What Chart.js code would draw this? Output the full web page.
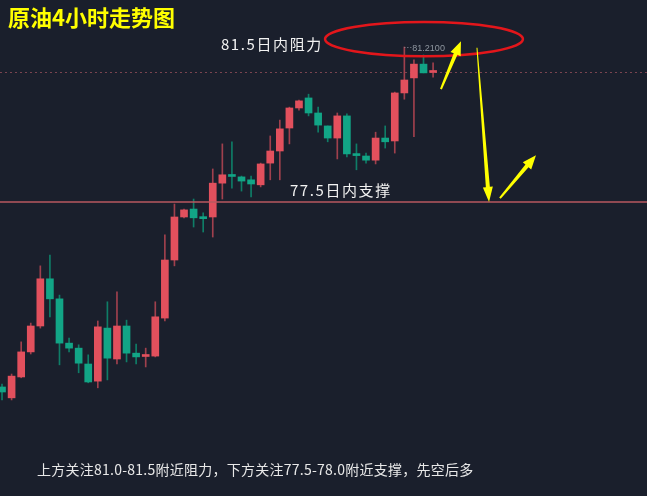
<!DOCTYPE html>
<html><head><meta charset="utf-8">
<script src="https://cdn.jsdelivr.net/npm/chart.js@4.4.1/dist/chart.umd.min.js"></script>
<style>html,body{margin:0;padding:0;background:#1a1f2c;overflow:hidden}canvas{display:block}</style>
</head><body>
<canvas id="c" width="647" height="496"></canvas>
<script>
// ---- data (crude oil, 4h candles) ----
const opens  = [73.07,72.81,73.31,73.91,74.53,75.66,75.18,74.12,74.00,73.62,73.21,74.48,73.74,74.53,73.88,73.80,73.81,74.72,76.11,77.14,77.33,77.12,77.14,77.95,78.13,78.10,78.03,77.91,78.43,78.72,79.27,79.75,79.99,79.63,79.32,79.03,79.56,78.63,78.60,78.50,79.03,78.96,80.11,80.47,80.80,80.60];
const highs  = [73.14,73.38,74.15,74.60,75.97,76.23,75.27,74.24,74.08,73.84,74.65,75.11,75.35,74.67,74.10,74.00,75.11,76.71,77.45,77.33,77.57,77.24,78.29,78.89,78.94,78.12,78.12,78.43,79.08,79.46,79.77,79.94,80.08,79.77,79.32,79.63,79.61,78.89,78.67,79.17,79.32,80.13,81.21,80.90,81.02,80.83];
const lows   = [72.76,72.76,73.29,73.86,74.48,74.75,73.60,73.91,73.41,73.17,73.05,73.24,73.62,73.67,73.62,73.55,73.79,74.65,75.97,77.12,76.90,76.78,76.66,77.57,77.83,77.76,77.62,77.86,78.03,78.03,78.89,79.70,79.56,79.17,78.94,78.53,78.58,78.27,78.43,78.41,78.79,78.67,79.96,79.06,80.59,80.49];
const closes = [72.95,73.33,73.91,74.53,75.66,75.18,74.12,74.00,73.64,73.19,74.51,73.76,74.53,73.88,73.79,73.82,74.75,76.11,77.14,77.31,77.12,77.10,77.95,78.15,78.11,78.00,77.93,78.41,78.72,79.25,79.75,79.92,79.63,79.34,79.03,79.56,78.65,78.61,78.50,79.03,78.94,80.11,80.42,80.80,80.59,80.62];
const resistanceLevel = 81.5;
const supportLevel = 77.5;
const titleText = "原油4小时走势图";
const resistanceText = "81.5日内阻力";
const supportText = "77.5日内支撑";
const noteText = "上方关注81.0-81.5附近阻力，下方关注77.5-78.0附近支撑，先空后多";

const UP = '#e2505d', DOWN = '#12a586', UPW = '#a0404d', DOWNW = '#0f7d67';
const idx = opens.map((_, i) => i);
const isUp = idx.map(i => closes[i] >= opens[i]);

const overlay = {
  id: 'overlay',
  beforeDraw(chart) {
    const c = chart.ctx;
    c.save(); c.fillStyle = '#1a1f2c'; c.fillRect(0, 0, chart.width, chart.height); c.restore();
  },
  beforeDatasetsDraw(chart) {
    const c = chart.ctx, y = chart.scales.y;
    const last = closes[closes.length - 1];
    const py = Math.round(y.getPixelForValue(last)) + 0.5;
    c.save(); c.strokeStyle = '#7a4450'; c.lineWidth = 1; c.setLineDash([2, 3]);
    c.beginPath(); c.moveTo(0, py); c.lineTo(chart.width, py); c.stroke(); c.restore();
  },
  afterDatasetsDraw(chart) {
    const c = chart.ctx, x = chart.scales.x, y = chart.scales.y;
    // support line
    const sy = y.getPixelForValue(supportLevel);
    c.save(); c.strokeStyle = '#b8585f'; c.lineWidth = 1.5;
    c.beginPath(); c.moveTo(0, sy); c.lineTo(chart.width, sy); c.stroke();
    // high marker
    let mi = 0; highs.forEach((h, i) => { if (h > highs[mi]) mi = i; });
    const hx = x.getPixelForValue(mi), hy = Math.round(y.getPixelForValue(highs[mi])) + 0.5;
    c.strokeStyle = '#8d939c'; c.lineWidth = 1; c.setLineDash([1, 2]);
    c.beginPath(); c.moveTo(hx, hy); c.lineTo(hx + 8, hy); c.stroke(); c.setLineDash([]);
    c.fillStyle = '#9097a0'; c.font = '9px "Liberation Sans", Arial'; c.textBaseline = 'middle';
    c.fillText(highs[mi].toFixed(4), hx + 8, hy + 1);
    // ellipse around resistance zone
    const ex = x.getPixelForValue(44.05), ey = y.getPixelForValue(81.40);
    const erx = x.getPixelForValue(44.05 + 10.33) - ex, ery = ey - y.getPixelForValue(81.40 + 0.41);
    c.strokeStyle = '#e3161b'; c.lineWidth = 2.5;
    c.beginPath(); c.ellipse(ex, ey, erx, ery, 0, 0, Math.PI * 2); c.stroke();
    // arrows
    const arrow = (a, b, w1, w2, hl, hw) => {
      const x1 = x.getPixelForValue(a[0]), y1 = y.getPixelForValue(a[1]);
      const x2 = x.getPixelForValue(b[0]), y2 = y.getPixelForValue(b[1]);
      const dx = x2 - x1, dy = y2 - y1, L = Math.hypot(dx, dy), ux = dx / L, uy = dy / L, nx = -uy, ny = ux;
      const bx = x2 - ux * hl, by = y2 - uy * hl;
      c.fillStyle = '#ffff00';
      c.beginPath();
      c.moveTo(x1 + nx * w1 / 2, y1 + ny * w1 / 2);
      c.lineTo(bx + nx * w2 / 2, by + ny * w2 / 2);
      c.lineTo(bx + nx * hw / 2, by + ny * hw / 2);
      c.lineTo(x2, y2);
      c.lineTo(bx - nx * hw / 2, by - ny * hw / 2);
      c.lineTo(bx - nx * w2 / 2, by - ny * w2 / 2);
      c.lineTo(x1 - nx * w1 / 2, y1 - ny * w1 / 2);
      c.closePath(); c.fill();
    };
    arrow([45.82, 80.20], [47.91, 81.35], 2, 4, 14, 11);
    arrow([49.58, 81.19], [50.84, 77.50], 1, 4, 15, 10);
    arrow([51.98, 77.59], [55.74, 78.62], 2, 4, 14, 11);
    // texts
    c.fillStyle = '#ffff00'; c.font = 'bold 22px "Noto Sans CJK SC"'; c.textBaseline = 'middle'; c.textAlign = 'left';
    c.fillText(titleText, 8, 18);
    c.fillStyle = '#f2f2f2'; c.font = '15px "Noto Sans CJK SC"';
    c.letterSpacing = '1.6px';
    c.fillText(resistanceText, x.getPixelForValue(22.85), y.getPixelForValue(81.28));
    c.fillText(supportText, x.getPixelForValue(30.05), y.getPixelForValue(77.78));
    c.letterSpacing = '0.25px';
    c.fillStyle = '#e8e8e8'; c.font = '14px "Noto Sans CJK SC"';
    c.fillText(noteText, 37, 470);
    c.restore();
  }
};

new Chart(document.getElementById('c'), {
  type: 'bar',
  data: {
    datasets: [
      { label: 'wick', data: idx.map(i => ({ x: i, y: [lows[i], highs[i]] })),
        backgroundColor: idx.map(i => isUp[i] ? UPW : DOWNW), barThickness: 1, grouped: false, order: 2 },
      { label: 'body', data: idx.map(i => ({ x: i, y: [opens[i], closes[i]] })),
        backgroundColor: idx.map(i => isUp[i] ? UP : DOWN), barThickness: 7, minBarLength: 2, grouped: false, order: 1 }
    ]
  },
  options: {
    responsive: false, devicePixelRatio: 1, animation: false,
    layout: { padding: 0 },
    plugins: { legend: { display: false }, tooltip: { enabled: false } },
    scales: {
      x: { type: 'linear', min: -0.21, max: 67.33, display: false, offset: false },
      y: { min: 70.46, max: 82.335, display: false }
    }
  },
  plugins: [overlay]
});
</script>
</body></html>
